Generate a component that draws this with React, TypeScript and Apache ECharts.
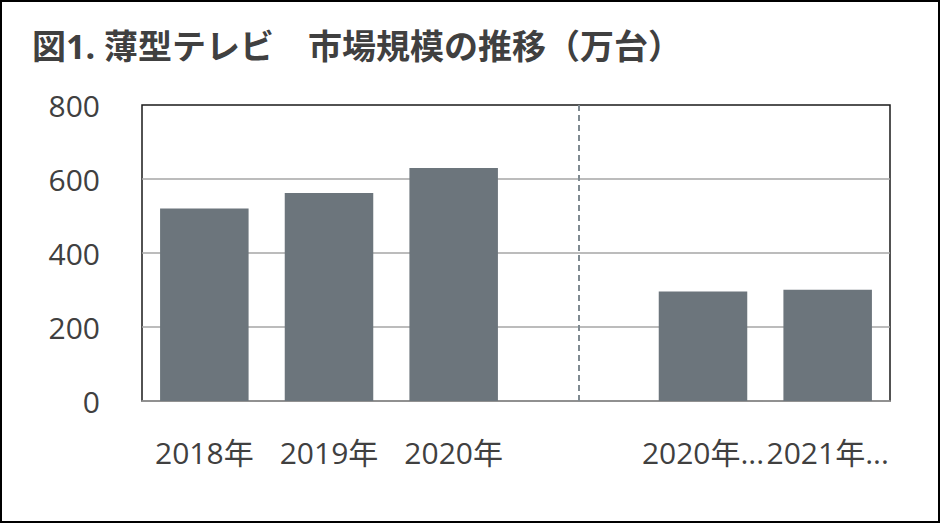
import React, { useEffect, useRef } from "react";
import * as echarts from "echarts";

const categories = ["2018年", "2019年", "2020年", "", "2020年...", "2021年..."];
const values: (number | null)[] = [520, 562, 630, null, 296, 301];
const yTicks = [0, 200, 400, 600, 800];
const titleText = "図1. 薄型テレビ　市場規模の推移（万台）";

const FONT = "'Open Sans', 'Noto Sans CJK JP', sans-serif";

export default function App() {
  const ref = useRef<HTMLDivElement>(null);
  useEffect(() => {
    document.body.style.margin = "0";
    const chart = echarts.init(ref.current!, null, { renderer: "svg" });
    chart.setOption({
      animation: false,
      backgroundColor: "#ffffff",
      title: {
        text: titleText,
        left: 27,
        top: 24,
        textStyle: {
          fontFamily: FONT,
          fontWeight: "bold",
          fontSize: 34,
          color: "#404040",
        },
      },
      grid: {
        left: 142,
        right: 50,
        top: 105,
        bottom: 122,
        show: true,
        borderColor: "#1a1a1a",
        borderWidth: 1.5,
      },
      xAxis: {
        type: "category",
        data: categories,
        axisLine: { show: true, lineStyle: { color: "#a6a6a6", width: 1.5 } },
        axisTick: { show: false },
        axisLabel: {
          margin: 36,
          fontSize: 30,
          color: "#404040",
          fontFamily: FONT,
          interval: 0,
        },
      },
      yAxis: {
        type: "value",
        min: yTicks[0],
        max: yTicks[yTicks.length - 1],
        interval: 200,
        axisLine: { show: false },
        axisTick: { show: false },
        splitLine: {
          showMaxLine: false,
          showMinLine: false,
          lineStyle: { color: "#a6a6a6", width: 1.5 },
        },
        axisLabel: {
          margin: 42,
          fontSize: 30,
          color: "#404040",
          fontFamily: FONT,
        },
      },
      series: [
        {
          type: "bar",
          data: values,
          barWidth: "71%",
          itemStyle: { color: "#6c757c" },
          markLine: {
            silent: true,
            symbol: "none",
            label: { show: false },
            lineStyle: { color: "#7f8a91", type: [6, 4], width: 2 },
            data: [{ xAxis: 3 }],
          },
        },
      ],
    });
    return () => chart.dispose();
  }, []);
  return (
    <div style={{ position: "relative", width: 940, height: 523 }}>
      <div ref={ref} style={{ position: "absolute", left: 0, top: 0, width: 940, height: 523 }} />
      <div
        style={{
          position: "absolute",
          left: 0,
          top: 0,
          width: 940,
          height: 523,
          boxSizing: "border-box",
          border: "2px solid #000",
          pointerEvents: "none",
        }}
      />
    </div>
  );
}
